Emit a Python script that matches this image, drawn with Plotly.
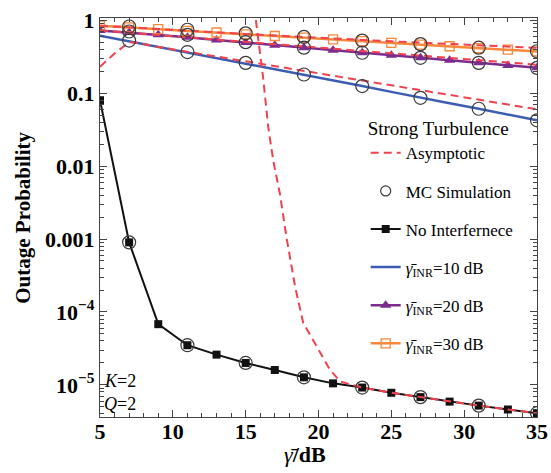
import plotly.graph_objects as go

# Average SNR grid (dB) for the analytical curves
snr_db = [5, 7, 9, 11, 13, 15, 17, 19, 21, 23, 25, 27, 29, 31, 33, 35]

# Outage probability, strong turbulence, K=2, Q=2
p_no_interf = [0.080, 9.0e-4, 6.8e-5, 3.5e-5, 2.6e-5, 2.0e-5, 1.6e-5, 1.27e-5,
               1.05e-5, 9.2e-6, 7.8e-6, 6.8e-6, 5.9e-6, 5.2e-6, 4.6e-6, 4.1e-6]
p_inr10 = [0.612, 0.513, 0.431, 0.366, 0.308, 0.259, 0.216, 0.180,
           0.150, 0.125, 0.104, 0.0863, 0.0726, 0.0611, 0.0508, 0.0424]
p_inr20 = [0.724, 0.676, 0.631, 0.582, 0.535, 0.493, 0.455, 0.420,
           0.387, 0.358, 0.331, 0.305, 0.282, 0.260, 0.240, 0.222]
p_inr30 = [0.841, 0.796, 0.755, 0.714, 0.678, 0.641, 0.607, 0.575,
           0.545, 0.516, 0.489, 0.462, 0.439, 0.415, 0.394, 0.372]

# Monte-Carlo simulation points
mc_db = [7, 11, 15, 19, 23, 27, 31, 35]
mc_no_interf = [9.0e-4, 3.5e-5, 2.0e-5, 1.27e-5, 9.2e-6, 6.8e-6, 5.2e-6, 4.1e-6]
mc_inr10 = [0.525, 0.366, 0.260, 0.180, 0.125, 0.0863, 0.0611, 0.0424]
mc_inr20 = [0.700, 0.630, 0.500, 0.420, 0.358, 0.305, 0.260, 0.222]
mc_inr30 = [0.820, 0.740, 0.660, 0.590, 0.525, 0.470, 0.420, 0.375]

# High-SNR asymptotic approximations
asym_no_db = [15.7, 16.2, 16.55, 16.9, 17.35, 17.8, 18.4, 18.95, 19.9, 20.8, 21.5,
              23, 25, 27, 29, 31, 33, 35]
asym_no = [1.0, 0.162, 0.034, 0.0117, 0.00417, 0.00106, 2.19e-4, 7.1e-5, 3.3e-5,
           1.6e-5, 1.11e-5, 9.2e-6, 7.8e-6, 6.8e-6, 5.9e-6, 5.2e-6, 4.6e-6, 4.1e-6]
asym10_db = [5, 6, 7, 7.5, 9, 12.5, 16, 20, 25, 30, 35]
asym10 = [0.23, 0.35, 0.50, 0.49, 0.43, 0.33, 0.253, 0.187, 0.128, 0.0877, 0.060]
asym20_db = [5, 15, 25, 35]
asym20 = [0.724, 0.501, 0.351, 0.245]
asym30_db = [5, 15, 25, 35]
asym30 = [0.841, 0.646, 0.513, 0.417]

# Axis ticks
x_ticks = [5, 10, 15, 20, 25, 30, 35]
y_tickvals = [1, 0.1, 0.01, 0.001, 1e-4, 1e-5]
y_ticktext = ["1", "0.1", "0.01", "0.001", "10<sup>\u22124</sup>", "10<sup>\u22125</sup>"]

BLUE = "#3B5CB0"
PURPLE = "#7B2C8C"
ORANGE = "#F5883A"
RED = "#F0424E"
BLACK = "#111111"
CIRCLE = "#3A3A3A"
SERIF = "Liberation Serif, Times New Roman, Times, DejaVu Serif, serif"

GB = "\u03b3\u0304"  # gamma with bar

fig = go.Figure()

# Analytical curves
fig.add_trace(go.Scatter(
    x=snr_db, y=p_no_interf, mode="lines+markers", name="No Interfernece",
    line=dict(color=BLACK, width=2), marker=dict(symbol="square", size=8, color=BLACK),
    legendgroup="g3", legendrank=3))
fig.add_trace(go.Scatter(
    x=snr_db, y=p_inr10, mode="lines",
    name=f"<i>{GB}</i><sub>INR</sub>=10 dB",
    line=dict(color=BLUE, width=2.5), legendgroup="g4", legendrank=4))
fig.add_trace(go.Scatter(
    x=snr_db, y=p_inr20, mode="lines+markers",
    name=f"<i>{GB}</i><sub>INR</sub>=20 dB",
    line=dict(color=PURPLE, width=2.5),
    marker=dict(symbol="triangle-up", size=10, color=PURPLE),
    legendgroup="g5", legendrank=5))
fig.add_trace(go.Scatter(
    x=snr_db, y=p_inr30, mode="lines+markers",
    name=f"<i>{GB}</i><sub>INR</sub>=30 dB",
    line=dict(color=ORANGE, width=2.5),
    marker=dict(symbol="square-open", size=9, color=ORANGE, line=dict(width=1.3)),
    legendgroup="g6", legendrank=6))

# Asymptotic curves
for i, (xs, ys) in enumerate([(asym_no_db, asym_no), (asym10_db, asym10),
                              (asym20_db, asym20), (asym30_db, asym30)]):
    fig.add_trace(go.Scatter(
        x=xs, y=ys, mode="lines", name="Asymptotic",
        line=dict(color=RED, width=2, dash="8px,5px"),
        showlegend=(i == 0), legendgroup="g1", legendrank=1))

# Monte-Carlo simulation markers
for ys in [mc_no_interf, mc_inr10, mc_inr20, mc_inr30]:
    fig.add_trace(go.Scatter(
        x=mc_db, y=ys, mode="markers", name="MC Simulation",
        marker=dict(symbol="circle-open", size=13, color=CIRCLE, line=dict(width=1.2)),
        showlegend=False, legendgroup="g2"))
# legend key for the simulation markers (smaller glyph)
fig.add_trace(go.Scatter(
    x=[None], y=[None], mode="markers", name="MC Simulation",
    marker=dict(symbol="circle-open", size=10, color=CIRCLE, line=dict(width=1.2)),
    legendgroup="g2", legendrank=2))

minor_y = [k * 10 ** e for e in range(-6, 1) for k in range(2, 10)]

axis_common = dict(
    showline=True, linecolor="#444444", linewidth=1.3, mirror="allticks",
    ticks="inside", ticklen=7, tickwidth=1, tickcolor="#444444",
    showgrid=False, zeroline=False, automargin=False,
    tickfont=dict(family=SERIF, size=22, color="black", weight="bold"),
)

fig.update_xaxes(
    range=[5, 35], tickvals=x_ticks, ticklabelstandoff=-6, **axis_common,
    minor=dict(ticks="inside", ticklen=4, dtick=1, tickcolor="#444444", showgrid=False),
)
fig.update_yaxes(
    type="log", range=[-5.44, 0.03], tickvals=y_tickvals, ticktext=y_ticktext,
    **axis_common,
    minor=dict(ticks="inside", ticklen=4, tickmode="array", tickvals=minor_y,
               tickcolor="#444444", showgrid=False),
)

fig.add_annotation(text="<b>Outage Probability</b>", xref="paper", yref="paper",
                   x=-0.178, y=0.5, xanchor="center", yanchor="middle", textangle=-90,
                   showarrow=False, font=dict(family=SERIF, size=21, color="black"))
fig.add_annotation(text=f"<i>{GB}</i><b>/dB</b>", xref="paper", yref="paper",
                   x=0.47, y=-0.095, xanchor="center", yanchor="middle", showarrow=False,
                   font=dict(family=SERIF, size=22, color="black"))
fig.add_annotation(text="<i>K</i>=2", xref="paper", yref="paper", x=0.005, y=0.09,
                   xanchor="left", yanchor="middle", showarrow=False,
                   font=dict(family=SERIF, size=18, color="black"))
fig.add_annotation(text="<i>Q</i>=2", xref="paper", yref="paper", x=0.005, y=0.033,
                   xanchor="left", yanchor="middle", showarrow=False,
                   font=dict(family=SERIF, size=18, color="black"))

fig.update_layout(
    width=551, height=473,
    margin=dict(l=100, r=14, t=18, b=56),
    plot_bgcolor="white", paper_bgcolor="white",
    legend=dict(
        x=0.608, y=0.768, xanchor="left", yanchor="top",
        bgcolor="rgba(0,0,0,0)", traceorder="grouped", tracegroupgap=13,
        title=dict(text="Strong Turbulence", font=dict(family=SERIF, size=19, color="black")),
        font=dict(family=SERIF, size=17, color="black"), itemwidth=30,
    ),
)

fig.write_html("out.html")
